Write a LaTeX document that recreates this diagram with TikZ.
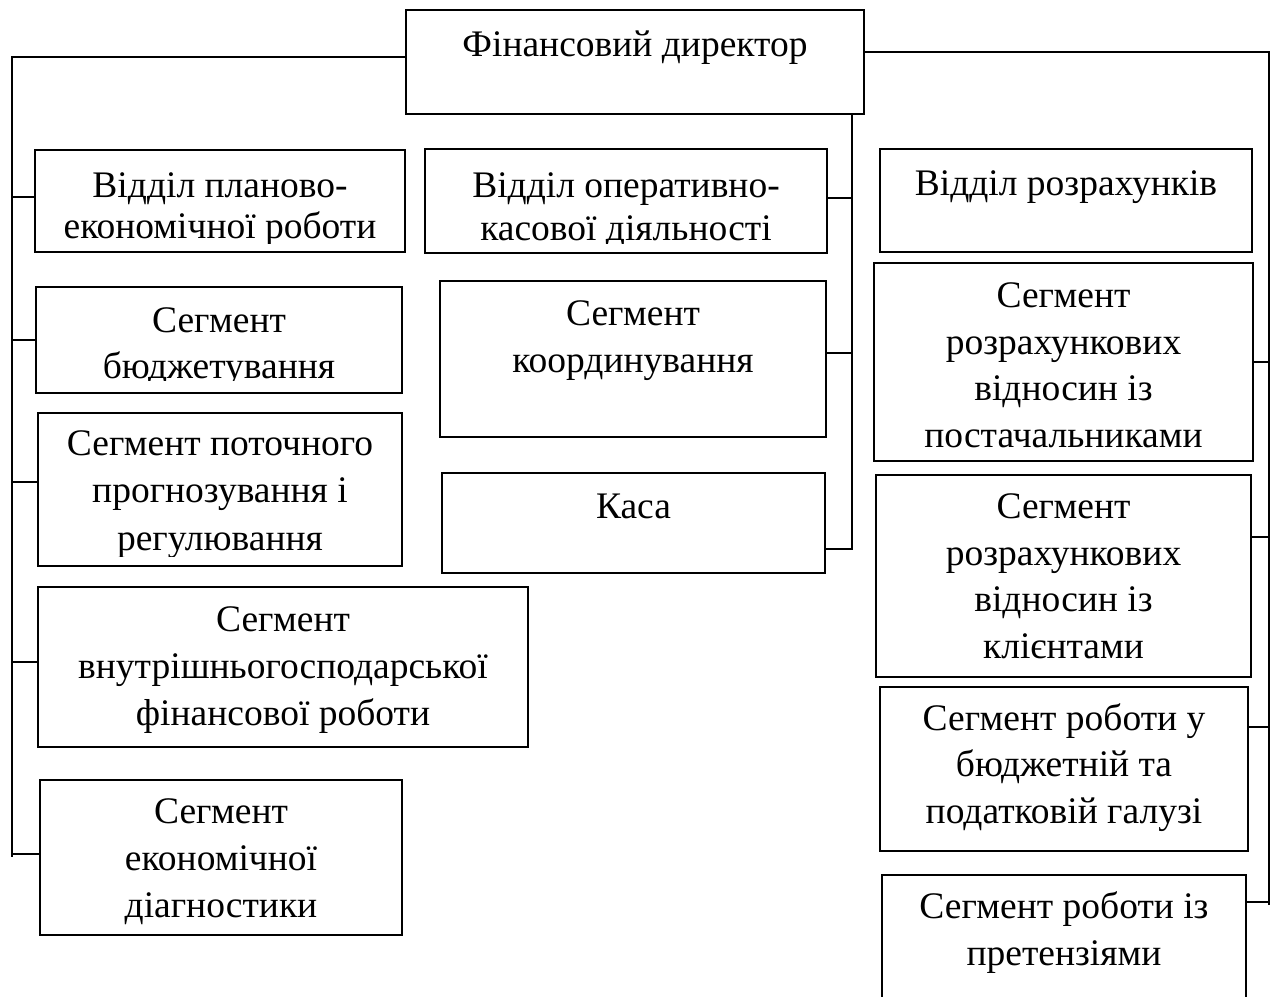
\documentclass[tikz,border=0pt]{standalone}
\usepackage{fontspec}
\setmainfont{Liberation Serif}
\usetikzlibrary{fit,calc}
\tikzset{
  boxst/.style={draw=black, line width=2.8pt, inner sep=0pt, rectangle},
  txt/.style={align=center, inner sep=0pt, anchor=base},
  conn/.style={draw=black, line width=1.2pt},
}
% #1 name, #2 x1, #3 y1, #4 x2, #5 y2, #6 clip bottom, #7 last baseline, #8 line spacing, #9 text
\newcommand\orgbox[9]{%
  \node[boxst, fit={(#2,#3) (#4,#5)}] (#1) {};
  \begin{scope}
    \clip (#2,#3) rectangle (#4,#6);
    \node[txt, font=\fontsize{37.5}{#8}\selectfont] (#1t) at ({(#2+#4)/2},#7) {#9};
  \end{scope}}
\begin{document}
\begin{tikzpicture}[x=1pt,y=-1pt]
\useasboundingbox (0,0) rectangle (1273,996);
\fill[white] (0,0) rectangle (1273,996);

\orgbox{fd}{406}{10}{864}{114}{114}{56}{46.5}{Фінансовий директор}

\orgbox{p1}{35}{150}{405}{252}{243}{238}{41}{Відділ планово-\\економічної роботи}
\orgbox{p2}{36}{287}{402}{393}{380}{378}{46}{Сегмент\\бюджетування}
\orgbox{p3}{38}{413}{402}{566}{556}{550}{47.5}{Сегмент поточного\\прогнозування і\\регулювання}
\orgbox{p4}{38}{587}{528}{747}{747}{725}{47}{Сегмент\\внутрішньогосподарської\\фінансової роботи}
\orgbox{p5}{40}{780}{402}{935}{935}{917}{47}{Сегмент\\економічної\\діагностики}

\orgbox{m1}{425}{149}{827}{253}{243}{240}{43}{Відділ оперативно-\\касової діяльності}
\orgbox{m2}{440}{281}{826}{437}{437}{372}{47}{Сегмент\\координування}
\orgbox{m3}{442}{473}{825}{573}{573}{518}{46}{Каса}

\orgbox{r1}{880}{149}{1252}{252}{252}{195}{46.5}{Відділ розрахунків}
\orgbox{r2}{874}{263}{1253}{461}{461}{447}{46.5}{Сегмент\\розрахункових\\відносин із\\постачальниками}
\orgbox{r3}{876}{475}{1251}{677}{677}{658}{46.5}{Сегмент\\розрахункових\\відносин із\\клієнтами}
\orgbox{r4}{880}{687}{1248}{851}{851}{823}{46.5}{Сегмент роботи у\\бюджетній та\\податковій галузі}
\orgbox{r5}{882}{875}{1246}{1010}{1010}{965}{47}{Сегмент роботи із\\претензіями}

% left bus
\coordinate (LT) at (12,57);
\coordinate (LB) at (12,857);
\coordinate (lp1) at ([yshift=4pt]p1.west);
\coordinate (lp2) at (p2.west);
\coordinate (lp3) at ([yshift=7.5pt]p3.west);
\coordinate (lp4) at ([yshift=5pt]p4.west);
\coordinate (lp5) at ([yshift=3.5pt]p5.west);
\draw[conn] (fd.west |- LT) -- (LT) -- (LB);
\foreach \s in {lp1,lp2,lp3,lp4,lp5} \draw[conn] (LT |- \s) -- (\s);

% middle bus
\coordinate (MT) at (852,114);
\coordinate (MB) at (852,550);
\coordinate (rm1) at ([yshift=3pt]m1.east);
\coordinate (rm2) at ([yshift=6pt]m2.east);
\coordinate (rm3) at ([yshift=-26pt]m3.east);
\draw[conn] (MT) -- (MB);
\foreach \s in {rm1,rm2,rm3} \draw[conn] (\s) -- (MT |- \s);

% right bus
\coordinate (RT) at (1269,52);
\coordinate (RB) at (1269,905);
\coordinate (rr2) at (r2.east);
\coordinate (rr3) at ([yshift=39pt]r3.east);
\coordinate (rr4) at ([yshift=42pt]r4.east);
\coordinate (rr5) at ([yshift=40.5pt]r5.east);
\draw[conn] (fd.east |- RT) -- (RT) -- (RB);
\foreach \s in {rr2,rr3,rr4,rr5} \draw[conn] (\s) -- (RT |- \s);
\end{tikzpicture}
\end{document}
